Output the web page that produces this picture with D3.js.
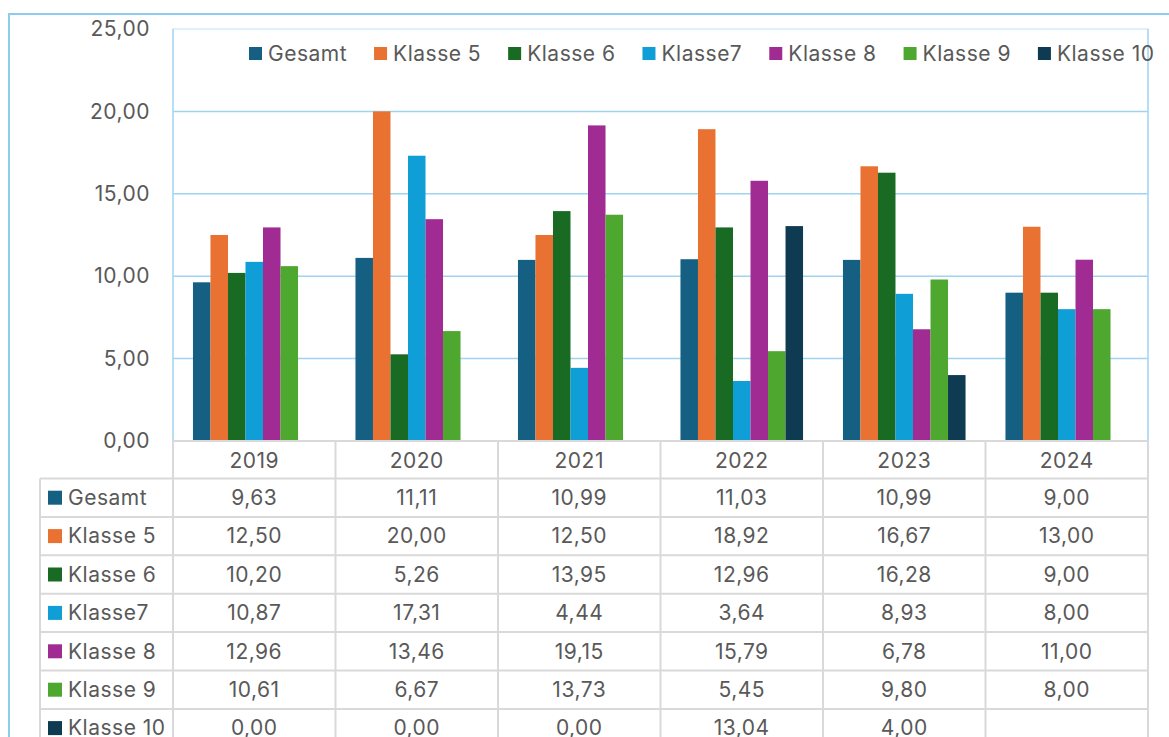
<!DOCTYPE html>
<html>
<head>
<meta charset="utf-8">
<script src="https://cdn.jsdelivr.net/npm/d3@7"></script>
<style>
  body { margin: 0; background: #fff; }
  text { font-family: "Inter", "Open Sans", sans-serif; fill: #595959; letter-spacing: 0.5px; }
</style>
</head>
<body>
<div id="canvas"></div>
<script>
"use strict"

// chart data
let years = ["2019", "2020", "2021", "2022", "2023", "2024"];
let seriesNames = ["Gesamt", "Klasse 5", "Klasse 6", "Klasse7", "Klasse 8", "Klasse 9", "Klasse 10"];
let gesamt   = [9.63, 11.11, 10.99, 11.03, 10.99, 9.00];
let klasse5  = [12.50, 20.00, 12.50, 18.92, 16.67, 13.00];
let klasse6  = [10.20, 5.26, 13.95, 12.96, 16.28, 9.00];
let klasse7  = [10.87, 17.31, 4.44, 3.64, 8.93, 8.00];
let klasse8  = [12.96, 13.46, 19.15, 15.79, 6.78, 11.00];
let klasse9  = [10.61, 6.67, 13.73, 5.45, 9.80, 8.00];
let klasse10 = [0.00, 0.00, 0.00, 13.04, 4.00, null];
let yTicks = [0, 5, 10, 15, 20, 25];
let colors = ["#156082", "#e97132", "#196b24", "#0f9ed5", "#a02b93", "#4ea72e", "#0e3a52"];

let allSeries = [gesamt, klasse5, klasse6, klasse7, klasse8, klasse9, klasse10];

let de = d3.formatLocale({ decimal: ",", thousands: ".", grouping: [3], currency: ["", " €"] });
let fmt = de.format(".2f");
let fontSize = 21;

let drawing = d3.select("#canvas")
    .append("svg")
    .attr("width", 1169)
    .attr("height", 737);

// outer frame of the chart object
let frame = drawing.append("rect")
    .attr("x", 9).attr("y", 14)
    .attr("width", 1200).attr("height", 800)
    .attr("fill", "#fff")
    .attr("stroke", "#8ccdee")
    .attr("stroke-width", 2);

let plotLeft = 173, plotRight = 1148, plotTop = 29, plotBottom = 441;

let x = d3.scaleBand().domain(years).range([plotLeft, plotRight]).paddingInner(0).paddingOuter(0);
let xInner = d3.scaleBand().domain(seriesNames).range([0, x.bandwidth()]).paddingInner(0).paddingOuter(1.14);
let y = d3.scaleLinear().domain([0, 25]).range([plotBottom, plotTop]);

// plot area border
drawing.append("rect")
    .attr("x", plotLeft).attr("y", plotTop)
    .attr("width", plotRight - plotLeft).attr("height", plotBottom - plotTop)
    .attr("fill", "none")
    .attr("stroke", "#d6ecf9")
    .attr("stroke-width", 1.5);

// gridlines
drawing.append("g")
    .selectAll("line")
    .data(yTicks.filter(t => t > 0 && t < 25))
    .join("line")
    .attr("x1", plotLeft).attr("x2", plotRight)
    .attr("y1", d => y(d)).attr("y2", d => y(d))
    .attr("stroke", "#9fd4f1")
    .attr("stroke-width", 1.5);

// left and right edge of plot
drawing.append("line")
    .attr("x1", plotLeft).attr("x2", plotLeft)
    .attr("y1", plotTop).attr("y2", plotBottom)
    .attr("stroke", "#a8d8f2").attr("stroke-width", 1.5);
drawing.append("line")
    .attr("x1", plotRight).attr("x2", plotRight)
    .attr("y1", plotTop).attr("y2", plotBottom)
    .attr("stroke", "#a8d8f2").attr("stroke-width", 1.5);

// y axis labels
let yAxis = drawing.append("g")
    .attr("transform", "translate(150,0)")
    .call(d3.axisLeft(y).tickValues(yTicks).tickFormat(fmt).tickSize(0).tickPadding(0));
yAxis.select(".domain").remove();
yAxis.selectAll("text")
    .attr("font-size", fontSize)
    .attr("fill", "#595959")
    .style("font-family", "Inter, 'Open Sans', sans-serif");

// bars
let barData = [];
allSeries.forEach((vals, si) => {
    vals.forEach((v, yi) => {
        if (v !== null) barData.push({ series: seriesNames[si], year: years[yi], value: v, color: colors[si] });
    });
});

drawing.append("g")
    .selectAll("rect")
    .data(barData)
    .join("rect")
    .attr("x", d => x(d.year) + xInner(d.series))
    .attr("y", d => y(d.value))
    .attr("width", xInner.bandwidth())
    .attr("height", d => y(0) - y(d.value))
    .attr("fill", d => d.color);

// legend on top
let legend = drawing.append("g").attr("transform", "translate(249,54)");
let lx = 0;
seriesNames.forEach((name, i) => {
    legend.append("rect")
        .attr("x", lx).attr("y", -7)
        .attr("width", 13).attr("height", 13)
        .attr("fill", colors[i]);
    let t = legend.append("text")
        .attr("x", lx + 19).attr("y", 0)
        .attr("dy", "0.35em")
        .attr("font-size", fontSize)
        .text(name);
    lx += 19 + t.node().getComputedTextLength() + 27;
});

// data table
let headerTop = plotBottom, rowH = 38.4, headerH = 37.5;
let tableLeft = 40;
let gridColor = "#d9d9d9";
let tbl = drawing.append("g");

// header row (years)
years.forEach(yr => {
    tbl.append("text")
        .attr("x", x(yr) + x.bandwidth() / 2)
        .attr("y", headerTop + headerH / 2 + 1)
        .attr("dy", "0.35em")
        .attr("text-anchor", "middle")
        .attr("font-size", fontSize)
        .text(yr);
});

// data rows
allSeries.forEach((vals, si) => {
    let top = headerTop + headerH + si * rowH;
    tbl.append("rect")
        .attr("x", 48).attr("y", top + rowH / 2 - 7)
        .attr("width", 14).attr("height", 14)
        .attr("fill", colors[si]);
    tbl.append("text")
        .attr("x", 68).attr("y", top + rowH / 2)
        .attr("dy", "0.35em")
        .attr("font-size", fontSize)
        .text(seriesNames[si]);
    vals.forEach((v, yi) => {
        if (v === null) return;
        tbl.append("text")
            .attr("x", x(years[yi]) + x.bandwidth() / 2)
            .attr("y", top + rowH / 2)
            .attr("dy", "0.35em")
            .attr("text-anchor", "middle")
            .attr("font-size", fontSize)
            .text(fmt(v));
    });
});

// table grid lines
let tableBottom = headerTop + headerH + allSeries.length * rowH;
tbl.append("line")
    .attr("x1", plotLeft).attr("x2", plotRight)
    .attr("y1", headerTop).attr("y2", headerTop)
    .attr("stroke", gridColor).attr("stroke-width", 2);
for (let r = 0; r <= allSeries.length; r++) {
    let yy = headerTop + headerH + r * rowH;
    tbl.append("line")
        .attr("x1", tableLeft).attr("x2", plotRight)
        .attr("y1", yy).attr("y2", yy)
        .attr("stroke", gridColor).attr("stroke-width", 2);
}
tbl.append("line")
    .attr("x1", tableLeft).attr("x2", tableLeft)
    .attr("y1", headerTop + headerH).attr("y2", tableBottom)
    .attr("stroke", gridColor).attr("stroke-width", 2);
years.forEach(yr => {
    tbl.append("line")
        .attr("x1", x(yr)).attr("x2", x(yr))
        .attr("y1", headerTop).attr("y2", tableBottom)
        .attr("stroke", gridColor).attr("stroke-width", 2);
});
tbl.append("line")
    .attr("x1", plotRight).attr("x2", plotRight)
    .attr("y1", headerTop).attr("y2", tableBottom)
    .attr("stroke", gridColor).attr("stroke-width", 2);
</script>
</body>
</html>
